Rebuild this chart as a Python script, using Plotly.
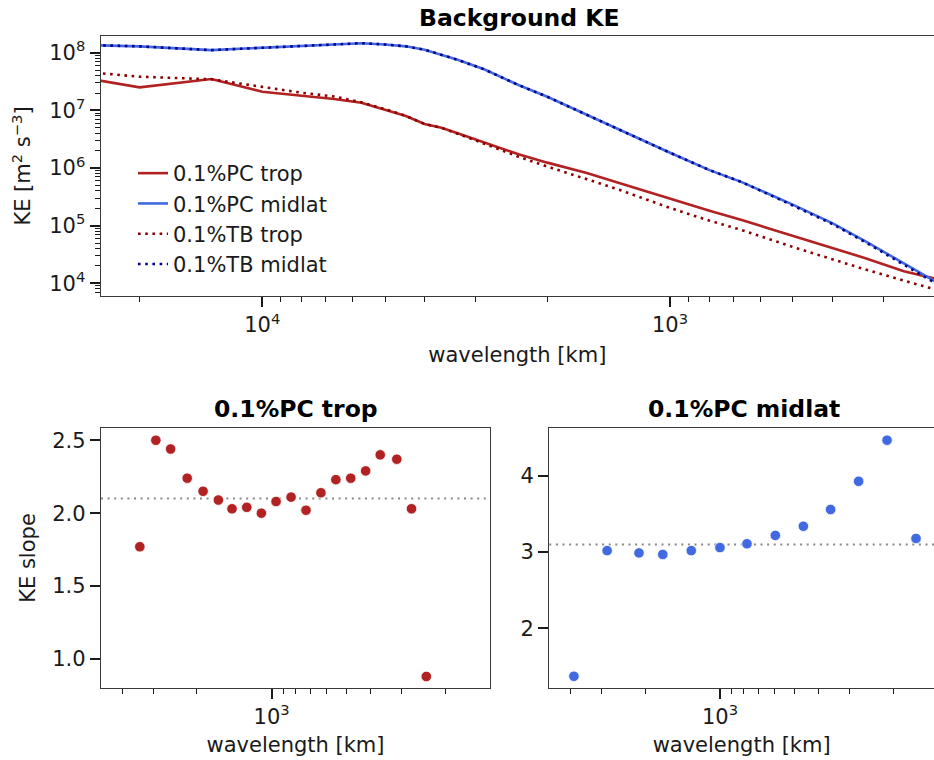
import math
import plotly.graph_objects as go

# ---- Background KE spectra (wavelength in km, KE in m^2 s^-3) ----
wavelength_km = [40000, 20000, 13333, 10000, 8000, 6667, 5714, 5000, 4444, 4000, 3636,
                 3333, 2857, 2667, 2353, 2000, 1600, 1333, 1000, 800, 667, 500, 400, 333, 267, 222]

ke_pc_trop = [5.75e7, 2.51e7, 3.50e7, 2.10e7, 1.79e7, 1.57e7, 1.36e7, 1.04e7, 7.98e6, 5.8e6, 5.0e6,
              4.05e6, 2.79e6, 2.36e6, 1.73e6, 1.24e6, 8.2e5, 5.5e5, 2.92e5, 1.82e5, 1.25e5,
              6.6e4, 4.14e4, 2.75e4, 1.62e4, 1.19e4]
ke_pc_midlat = [1.46e8, 1.29e8, 1.11e8, 1.22e8, 1.32e8, 1.42e8, 1.46e8, 1.39e8, 1.29e8, 1.13e8, 9.3e7,
                7.6e7, 5.15e7, 4.1e7, 2.75e7, 1.72e7, 8.3e6, 4.63e6, 1.84e6, 9.2e5, 5.7e5,
                2.32e5, 1.11e5, 5.45e4, 2.21e4, 1.05e4]
ke_tb_trop = [5.9e7, 3.84e7, 3.46e7, 2.57e7, 2.02e7, 1.74e7, 1.38e7, 1.05e7, 8.0e6, 5.8e6, 4.98e6,
              3.98e6, 2.69e6, 2.2e6, 1.57e6, 1.06e6, 6.4e5, 4.2e5, 2.03e5, 1.22e5, 8.4e4,
              4.27e4, 2.62e4, 1.75e4, 1.12e4, 7.7e3]
ke_tb_midlat = [1.46e8, 1.29e8, 1.11e8, 1.22e8, 1.32e8, 1.42e8, 1.46e8, 1.39e8, 1.29e8, 1.13e8, 9.3e7,
                7.6e7, 5.15e7, 4.1e7, 2.75e7, 1.72e7, 8.3e6, 4.63e6, 1.84e6, 9.2e5, 5.7e5,
                2.24e5, 1.07e5, 5.25e4, 2.09e4, 9.8e3]

# ---- Local spectral slopes ----
slope_trop_wl = [3400, 2930, 2555, 2190, 1890, 1640, 1445, 1260, 1100, 960,
                 835, 727, 633, 551, 480, 418, 365, 313, 273, 238]
slope_trop = [1.77, 2.50, 2.44, 2.24, 2.15, 2.09, 2.03, 2.04, 2.00, 2.08,
              2.11, 2.02, 2.14, 2.23, 2.24, 2.29, 2.40, 2.37, 2.03, 0.88]
slope_trop_ref = 2.1

slope_midlat_wl = [3880, 2850, 2120, 1700, 1305, 1000, 778, 598, 461, 358, 276, 212, 162]
slope_midlat = [1.37, 3.02, 2.99, 2.97, 3.02, 3.06, 3.11, 3.22, 3.34, 3.56, 3.93, 4.47, 3.18]
slope_midlat_ref = 3.1

FONT = "DejaVu Sans"
TXT = "#1a1a1a"
SPINE = "#3a3a3a"
W, H = 934, 760
FS = 21          # tick / label / legend size
FS_TITLE = 23.5  # panel titles


def log_minor(lo, hi):
    vals = []
    for e in range(math.floor(lo), math.ceil(hi) + 1):
        for m in range(2, 10):
            v = m * 10 ** e
            if lo <= math.log10(v) <= hi:
                vals.append(v)
    return vals


def sup(e):
    return "10<sup>%d</sup>" % e


fig = go.Figure()

dots = "2.6px,4.6px"
fig.add_trace(go.Scatter(x=wavelength_km, y=ke_pc_trop, mode="lines", name="0.1%PC trop",
                         line=dict(color="#B22222", width=2.6), xaxis="x", yaxis="y"))
fig.add_trace(go.Scatter(x=wavelength_km, y=ke_pc_midlat, mode="lines", name="0.1%PC midlat",
                         line=dict(color="#4169E1", width=2.6), xaxis="x", yaxis="y"))
fig.add_trace(go.Scatter(x=wavelength_km, y=ke_tb_trop, mode="lines", name="0.1%TB trop",
                         line=dict(color="#8B0000", width=2.6, dash=dots), xaxis="x", yaxis="y"))
fig.add_trace(go.Scatter(x=wavelength_km, y=ke_tb_midlat, mode="lines", name="0.1%TB midlat",
                         line=dict(color="#00008B", width=2.6, dash=dots), xaxis="x", yaxis="y"))

fig.add_trace(go.Scatter(x=slope_trop_wl, y=slope_trop, mode="markers", showlegend=False,
                         marker=dict(color="#B22222", size=10.5, line=dict(color="white", width=0.8)),
                         xaxis="x2", yaxis="y2"))
fig.add_trace(go.Scatter(x=slope_midlat_wl, y=slope_midlat, mode="markers", showlegend=False,
                         marker=dict(color="#4169E1", size=10.5, line=dict(color="white", width=0.8)),
                         xaxis="x3", yaxis="y3"))

# plot-area geometry in pixels
top_l, top_r, top_t, top_b = 100.7, 934, 36, 296
bl_l, bl_r = 101, 490
br_l, br_r = 549.3, 934
bot_t, bot_b = 428.3, 687.7

tick_common = dict(showline=True, linecolor=SPINE, linewidth=1.3, ticks="outside",
                   ticklen=10, tickwidth=2, tickcolor=TXT, showgrid=False, zeroline=False,
                   tickfont=dict(family=FONT, size=FS, color=TXT), automargin=False)
title_font = dict(family=FONT, size=FS, color=TXT)

x_top_range = [4.3964, 2.3525]
y_top_range = [3.78, 8.29]
x_bot_range_l = [3.688, 2.1198]
x_bot_range_r = [3.688, 2.137]

minor_style = dict(ticks="outside", ticklen=5, tickwidth=1, tickcolor=TXT)

fig.update_layout(
    width=W, height=H,
    margin=dict(l=0, r=0, t=0, b=0),
    paper_bgcolor="white", plot_bgcolor="white",
    font=dict(family=FONT, color=TXT),
    xaxis=dict(tick_common, type="log", range=x_top_range, mirror=True,
               domain=[top_l / W, top_r / W], anchor="y",
               tickvals=[1e3, 1e4], ticktext=[sup(3), sup(4)],
               minor=dict(minor_style, tickvals=log_minor(x_top_range[1], x_top_range[0])),
               title=dict(text="wavelength [km]", font=title_font, standoff=10)),
    yaxis=dict(tick_common, type="log", range=y_top_range, mirror=False,
               domain=[1 - top_b / H, 1 - top_t / H], anchor="x",
               tickvals=[1e4, 1e5, 1e6, 1e7, 1e8], ticktext=[sup(e) for e in range(4, 9)],
               minor=dict(minor_style, tickvals=log_minor(*y_top_range)),
               title=dict(text="KE [m<sup>2</sup> s<sup>\u22123</sup>]", font=title_font, standoff=12)),
    xaxis2=dict(tick_common, type="log", range=x_bot_range_l, mirror=True,
                domain=[bl_l / W, bl_r / W], anchor="y2",
                tickvals=[1e3], ticktext=[sup(3)],
                minor=dict(minor_style, tickvals=log_minor(x_bot_range_l[1], x_bot_range_l[0])),
                title=dict(text="wavelength [km]", font=title_font, standoff=9)),
    yaxis2=dict(tick_common, range=[0.803, 2.582], mirror=True,
                domain=[1 - bot_b / H, 1 - bot_t / H], anchor="x2",
                tickvals=[1.0, 1.5, 2.0, 2.5], ticktext=["1.0", "1.5", "2.0", "2.5"],
                title=dict(text="KE slope", font=title_font, standoff=10)),
    xaxis3=dict(tick_common, type="log", range=x_bot_range_r, mirror=True,
                domain=[br_l / W, br_r / W], anchor="y3",
                tickvals=[1e3], ticktext=[sup(3)],
                minor=dict(minor_style, tickvals=log_minor(x_bot_range_r[1], x_bot_range_r[0])),
                title=dict(text="wavelength [km]", font=title_font, standoff=9)),
    yaxis3=dict(tick_common, range=[1.22, 4.626], mirror=False,
                domain=[1 - bot_b / H, 1 - bot_t / H], anchor="x3",
                tickvals=[2, 3, 4], ticktext=["2", "3", "4"]),
    legend=dict(x=133 / W, y=1 - 153 / H, xanchor="left", yanchor="top",
                bgcolor="rgba(0,0,0,0)", borderwidth=0,
                font=dict(family=FONT, size=FS, color=TXT),
                traceorder="grouped", tracegroupgap=0),
    showlegend=True,
)

# each legend entry in its own group so the gap spaces the rows
for i, tr in enumerate(fig.data[:4]):
    tr.legendgroup = "g%d" % i

# reference slope lines
for xr, yr, val in [("x2 domain", "y2", slope_trop_ref), ("x3 domain", "y3", slope_midlat_ref)]:
    fig.add_shape(type="line", xref=xr, yref=yr, x0=0, x1=1, y0=val, y1=val,
                  line=dict(color="#888888", width=2, dash="2px,4.6px"), layer="below")

# panel titles
for text, xc, yc in [("Background KE", (top_l + 938) / 2, 18),
                     ("0.1%PC trop", (bl_l + bl_r) / 2, 409),
                     ("0.1%PC midlat", (br_l + 938) / 2, 409)]:
    fig.add_annotation(text="<b>%s</b>" % text, xref="paper", yref="paper",
                       x=xc / W, y=1 - yc / H, xanchor="center", yanchor="middle",
                       showarrow=False, font=dict(family=FONT, size=FS_TITLE, color="black"))

fig.write_html("out.html")
